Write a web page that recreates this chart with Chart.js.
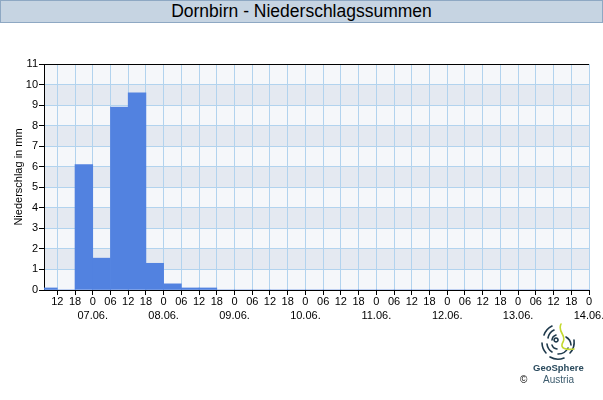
<!DOCTYPE html>
<html>
<head>
<meta charset="utf-8">
<script src="https://cdn.jsdelivr.net/npm/chart.js@4"></script>
<style>
  body { margin: 0; background: #fff; font-family: Arial, "Liberation Sans", sans-serif; }
  #wrap { position: relative; width: 603px; height: 400px; overflow: hidden; }
  #head {
    position: absolute; left: 0; top: 0; width: 603px; height: 23px; box-sizing: border-box;
    background: #c6d4e2; border: 1px solid #8ea8c3; text-align: center;
    font-size: 17.5px; line-height: 21px; color: #000; z-index: 2;
  }
  canvas { position: absolute; left: 0; top: 0; }
  #logo { position: absolute; left: 540px; top: 323px; }
  .lt { position: absolute; white-space: nowrap; }
  #geo { left: 533px; top: 362px; font-size: 9.5px; font-weight: bold; color: #2b4b5e; }
  #aut { left: 543px; top: 374px; font-size: 10px; color: #3d5c6e; }
  #copy { left: 520px; top: 374px; font-size: 10px; color: #000; }
</style>
</head>
<body>
<div id="wrap">
  <div id="head">Dornbirn - Niederschlagssummen</div>
  <canvas id="myChart" width="603" height="400"></canvas>
  <svg id="logo" width="36" height="38" viewBox="0 0 36 38">
    <g fill="none" stroke="#1f3a4c" stroke-width="1.6" stroke-linecap="round">
      <path d="M4 12 A16 16 0 0 1 12 3"/>
      <path d="M2 20 A16 16 0 0 0 6 30"/>
      <path d="M10 34 A16 16 0 0 0 24 35"/>
      <path d="M30 30 A16 16 0 0 0 34 17"/>
      <path d="M8 15 A11 11 0 0 1 14 7"/>
      <path d="M7 21 A11 11 0 0 0 12 29"/>
      <path d="M18 31 A11 11 0 0 0 28 25"/>
      <path d="M12 17 A6 6 0 0 1 16 12"/>
      <path d="M12 22 A6 6 0 0 0 17 26"/>
      <path d="M26 14 A10 10 0 0 1 31 22"/>
      <path d="M16 19 A2 2 0 1 1 16.1 19"/>
    </g>
    <path d="M21 1 C 17 9, 27 12, 23 19 S 27 27, 34 26" fill="none" stroke="#c4d92f" stroke-width="1.6" stroke-linecap="round"/>
  </svg>
  <div class="lt" id="geo">GeoSphere</div>
  <div class="lt" id="copy">©</div>
  <div class="lt" id="aut">Austria</div>
</div>
<script>
// 6-Stunden-Summen, Beginn des Intervalls in Stunden ab 06.06. 00:00
const binStart = [6, 12, 18, 24, 30, 36, 42, 48, 54, 60, 66, 72, 78, 84, 90, 96,
                  102, 108, 114, 120, 126, 132, 138, 144, 150, 156, 162, 168, 174, 180, 186];
const precip = [0.1, 0, 6.1, 1.55, 8.9, 9.6, 1.3, 0.3, 0.1, 0.1, 0, 0, 0, 0, 0, 0,
                0, 0, 0, 0, 0, 0, 0, 0, 0, 0, 0, 0, 0, 0, 0];
const tickHours = [12, 18, 24, 30, 36, 42, 48, 54, 60, 66, 72, 78, 84, 90, 96, 102,
                   108, 114, 120, 126, 132, 138, 144, 150, 156, 162, 168, 174, 180, 186, 192];
const dayLabels = ['07.06.', '08.06.', '09.06.', '10.06.', '11.06.', '12.06.', '13.06.', '14.06.'];
const yTicks = [0, 1, 2, 3, 4, 5, 6, 7, 8, 9, 10, 11];

const gridCol = '#b2d3ee';
Chart.defaults.font.family = 'Arial, "Liberation Sans", sans-serif';
Chart.defaults.color = '#000';

// abwechselnd helle und dunkle Streifen hinter dem Gitter
const bands = {
  id: 'bands',
  beforeDraw(chart) {
    const { ctx, chartArea: a, scales: { y } } = chart;
    for (let k = 0; k < yTicks.length - 1; k++) {
      const top = y.getPixelForValue(yTicks[k + 1]);
      const bot = y.getPixelForValue(yTicks[k]);
      ctx.fillStyle = k % 2 ? '#e4e9f1' : '#f5f7fa';
      ctx.fillRect(a.left, top, a.right - a.left, bot - top);
    }
  }
};

function hourLabel(value) {
  const h = value % 24;
  const txt = h === 0 ? '0' : String(h).padStart(2, '0');
  if (h === 0) return [txt, dayLabels[value / 24 - 1]];
  return txt;
}

const ctx = document.getElementById('myChart').getContext('2d');
new Chart(ctx, {
  type: 'bar',
  data: {
    datasets: [{
      data: binStart.map((h, i) => ({ x: h + 3, y: precip[i] })),
      backgroundColor: '#5282e0',
      borderWidth: 0,
      barPercentage: 1,
      categoryPercentage: 1
    }]
  },
  options: {
    responsive: false,
    animation: false,
    layout: { padding: { top: 64, right: 14, bottom: 70, left: 0 } },
    plugins: { legend: { display: false }, tooltip: { enabled: false } },
    scales: {
      x: {
        type: 'linear',
        min: 7.5,
        max: 192,
        offset: false,
        grid: { offset: false, color: gridCol, tickColor: '#000', tickLength: 5 },
        border: { color: '#000' },
        afterBuildTicks: s => { s.ticks = tickHours.map(v => ({ value: v })); },
        afterFit: s => { s.height = 40; s.paddingLeft = 0; s.paddingRight = 0; },
        ticks: {
          callback: hourLabel,
          autoSkip: false,
          maxRotation: 0,
          padding: 0,
          font: { size: 11, lineHeight: 1.25 }
        }
      },
      y: {
        min: 0,
        max: 11,
        afterBuildTicks: s => { s.ticks = yTicks.map(v => ({ value: v })); },
        afterFit: s => { s.width = 44; s.paddingTop = 0; s.paddingBottom = 0; },
        grid: {
          color: c => (c.tick && c.tick.value === 11 ? '#000' : gridCol),
          tickColor: '#000',
          tickLength: 5
        },
        border: { color: '#000' },
        ticks: { padding: 1, font: { size: 11 } },
        title: {
          display: true,
          text: 'Niederschlag in mm',
          font: { size: 11 },
          padding: { top: 12, bottom: 0 }
        }
      }
    }
  },
  plugins: [bands]
});
</script>
</body>
</html>
